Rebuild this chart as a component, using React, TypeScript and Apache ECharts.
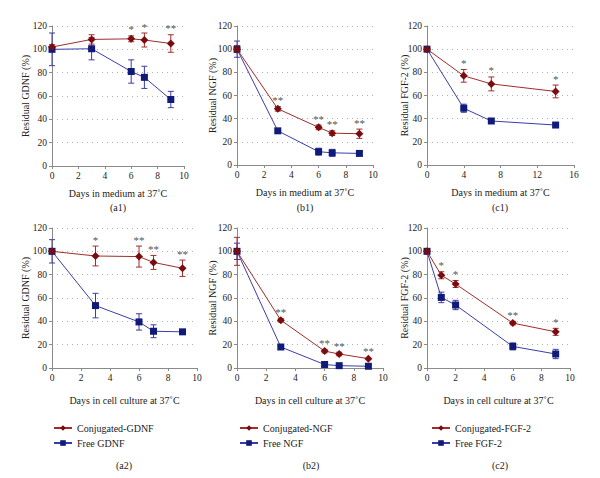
import React, { useEffect, useRef } from "react";
import * as echarts from "echarts";

// ---- Data ----
const daysA1 = [0, 3, 6, 7, 9];
const conjA1 = [102, 108.5, 109, 108, 105];
const conjErrA1 = [2, 4, 2.5, 6, 7.5];
const freeA1 = [100, 100.5, 81, 76, 57];
const freeErrA1 = [14, 9.5, 10, 9.5, 7];
const starsA1 = ["", "", "*", "*", "**"];

const daysB1 = [0, 3, 6, 7, 9];
const conjB1 = [100, 48.5, 32.5, 27.5, 27];
const conjErrB1 = [3, 2, 2, 2, 4];
const freeB1 = [100, 29.5, 11.5, 10.5, 10];
const freeErrB1 = [7, 1.5, 3, 3, 1.5];
const starsB1 = ["", "**", "**", "**", "**"];

const daysC1 = [0, 4, 7, 14];
const conjC1 = [100, 77, 70, 63.5];
const conjErrC1 = [1, 5.5, 6, 5.5];
const freeC1 = [100, 49, 38, 34.5];
const freeErrC1 = [1, 3.5, 1, 1];
const starsC1 = ["", "*", "*", "*"];

const daysA2 = [0, 3, 6, 7, 9];
const conjA2 = [100, 96, 95.5, 90.5, 85.5];
const conjErrA2 = [2, 8.5, 9, 6, 7];
const freeA2 = [100, 53.5, 39.5, 31.5, 31];
const freeErrA2 = [10, 10.5, 7, 5.5, 1];
const starsA2 = ["", "*", "**", "**", "**"];

const daysB2 = [0, 3, 6, 7, 9];
const conjB2 = [100, 41, 14.5, 12, 8];
const conjErrB2 = [12, 1.5, 1.5, 1.5, 1];
const freeB2 = [100, 18, 3, 2, 1.5];
const freeErrB2 = [7, 1, 1, 1, 1];
const starsB2 = ["", "**", "**", "**", "**"];

const daysC2 = [0, 1, 2, 6, 9];
const conjC2 = [100, 79.5, 72, 38.5, 31];
const conjErrC2 = [1, 3, 3, 1.5, 3];
const freeC2 = [100, 60.5, 54, 18.5, 12];
const freeErrC2 = [1, 4.5, 4, 3, 4];
const starsC2 = ["", "*", "*", "**", "*"];

const yTicks = [0, 20, 40, 60, 80, 100, 120];
const xMaxes = [10, 10, 16, 10, 10, 10];
const xIntervals = [2, 2, 4, 2, 2, 2];

const conjNames = ["Conjugated-GDNF", "Conjugated-NGF", "Conjugated-FGF-2"];
const freeNames = ["Free GDNF", "Free NGF", "Free FGF-2"];
const yNames = ["Residual GDNF (%)", "Residual NGF (%)", "Residual FGF-2 (%)"];
const xNameTop = "Days in medium at 37˚C";
const xNameBottom = "Days in cell culture at 37˚C";
const captions = ["(a1)", "(b1)", "(c1)", "(a2)", "(b2)", "(c2)"];

const FONT = "Liberation Serif";
const RED_LINE = "#a02c2c";
const RED_MARK = "#7a0c10";
const BLUE_LINE = "#3c3ca8";
const BLUE_MARK = "#101a78";

const panels = [
  { days: daysA1, conj: conjA1, conjErr: conjErrA1, free: freeA1, freeErr: freeErrA1, stars: starsA1 },
  { days: daysB1, conj: conjB1, conjErr: conjErrB1, free: freeB1, freeErr: freeErrB1, stars: starsB1 },
  { days: daysC1, conj: conjC1, conjErr: conjErrC1, free: freeC1, freeErr: freeErrC1, stars: starsC1 },
  { days: daysA2, conj: conjA2, conjErr: conjErrA2, free: freeA2, freeErr: freeErrA2, stars: starsA2 },
  { days: daysB2, conj: conjB2, conjErr: conjErrB2, free: freeB2, freeErr: freeErrB2, stars: starsB2 },
  { days: daysC2, conj: conjC2, conjErr: conjErrC2, free: freeC2, freeErr: freeErrC2, stars: starsC2 },
];

const grids = [
  { left: 52, top: 26, width: 132, height: 140 },
  { left: 237, top: 26, width: 136, height: 139 },
  { left: 427, top: 26, width: 147, height: 139 },
  { left: 52, top: 228, width: 145, height: 140 },
  { left: 237, top: 228, width: 146, height: 140 },
  { left: 427, top: 228, width: 143, height: 140 },
];
const yNameGaps = [22, 20, 18, 22, 20, 18];
const xNameGaps = [22, 22, 22, 27, 27, 27];
const captionPos = [
  [118, 207], [305, 207], [500, 207],
  [124, 465], [311, 465], [500, 465],
];
const legendPos = [[48, 418], [234, 418], [426, 418]];

function errorSeries(idx: number, days: number[], vals: number[], errs: number[], color: string, stars: string[] | null) {
  const data = days.map((d, i) => [d, vals[i] - errs[i], vals[i] + errs[i]]);
  return {
    type: "custom",
    xAxisIndex: idx,
    yAxisIndex: idx,
    silent: true,
    z: 3,
    encode: { x: 0, y: [1, 2] },
    data,
    renderItem: (params: any, api: any) => {
      const x = api.value(0);
      const lo = api.value(1);
      const hi = api.value(2);
      const pLo = api.coord([x, lo]);
      const pHi = api.coord([x, hi]);
      const w = 3;
      const style = { stroke: color, lineWidth: 1 };
      const children: any[] = [];
      if (pLo[1] - pHi[1] > 3) {
        children.push(
          { type: "line", shape: { x1: pLo[0], y1: pLo[1], x2: pHi[0], y2: pHi[1] }, style },
          { type: "line", shape: { x1: pLo[0] - w, y1: pLo[1], x2: pLo[0] + w, y2: pLo[1] }, style },
          { type: "line", shape: { x1: pHi[0] - w, y1: pHi[1], x2: pHi[0] + w, y2: pHi[1] }, style }
        );
      }
      const s = stars ? stars[params.dataIndex] : "";
      if (s) {
        children.push({
          type: "text",
          x: pHi[0],
          y: pHi[1] - 1,
          style: {
            text: s,
            fill: "#555",
            font: `11px "${FONT}"`,
            align: "center",
            verticalAlign: "bottom",
          },
        });
      }
      return { type: "group", children };
    },
  };
}

export default function App() {
  const ref = useRef<HTMLDivElement>(null);
  useEffect(() => {
    if (!ref.current) return;
    const chart = echarts.init(ref.current, null, { renderer: "svg" });
    const textStyle = { fontFamily: FONT, color: "#222" };

    const xAxis = grids.map((_, i) => ({
      type: "value",
      gridIndex: i,
      min: 0,
      max: xMaxes[i],
      interval: xIntervals[i],
      name: i < 3 ? xNameTop : xNameBottom,
      nameLocation: "middle",
      nameGap: xNameGaps[i],
      nameMoveOverlap: false,
      nameTextStyle: { fontFamily: FONT, fontSize: 10, color: "#222" },
      axisLine: { show: true, lineStyle: { color: "#8a8a8a", width: 1 } },
      axisTick: { show: true, length: 3, lineStyle: { color: "#8a8a8a" } },
      axisLabel: { fontFamily: FONT, fontSize: 9.5, color: "#222", margin: 5 },
      splitLine: { show: false },
    }));
    const yAxis = grids.map((_, i) => ({
      type: "value",
      gridIndex: i,
      min: yTicks[0],
      max: yTicks[yTicks.length - 1],
      interval: yTicks[1] - yTicks[0],
      name: yNames[i % 3],
      nameLocation: "middle",
      nameRotate: 90,
      nameGap: yNameGaps[i],
      nameMoveOverlap: false,
      nameTextStyle: { fontFamily: FONT, fontSize: 10, color: "#222" },
      axisLine: { show: true, lineStyle: { color: "#8a8a8a", width: 1 } },
      axisTick: { show: true, length: 3, lineStyle: { color: "#8a8a8a" } },
      axisLabel: { fontFamily: FONT, fontSize: 9.5, color: "#222", margin: 5 },
      splitLine: { show: true, lineStyle: { color: "#b0b0b0", type: [1, 4], width: 1 } },
    }));

    const series: any[] = [];
    panels.forEach((p, i) => {
      const col = i % 3;
      series.push(errorSeries(i, p.days, p.free, p.freeErr, BLUE_LINE, null));
      series.push(errorSeries(i, p.days, p.conj, p.conjErr, RED_LINE, p.stars));
      series.push({
        type: "line",
        name: freeNames[col],
        xAxisIndex: i,
        yAxisIndex: i,
        data: p.days.map((d, k) => [d, p.free[k]]),
        symbol: "rect",
        symbolSize: 7,
        z: 4,
        lineStyle: { color: BLUE_LINE, width: 1 },
        itemStyle: { color: BLUE_MARK },
      });
      series.push({
        type: "line",
        name: conjNames[col],
        xAxisIndex: i,
        yAxisIndex: i,
        data: p.days.map((d, k) => [d, p.conj[k]]),
        symbol: "diamond",
        symbolSize: 8,
        z: 5,
        lineStyle: { color: RED_LINE, width: 1 },
        itemStyle: { color: RED_MARK },
      });
    });

    const legend = legendPos.map((pos, c) => ({
      data: [conjNames[c], freeNames[c]],
      left: pos[0],
      top: pos[1],
      orient: "vertical",
      itemWidth: 18,
      itemHeight: 7,
      itemGap: 5,
      textStyle: { fontFamily: FONT, fontSize: 10, color: "#222" },
      selectedMode: false,
    }));

    const graphic = captions.map((t, i) => ({
      type: "text",
      x: captionPos[i][0],
      y: captionPos[i][1],
      style: {
        text: t,
        fill: "#222",
        font: `10px "${FONT}"`,
        align: "center",
        verticalAlign: "middle",
      },
    }));

    chart.setOption({
      animation: false,
      backgroundColor: "#ffffff",
      textStyle,
      grid: grids.map((g) => ({ ...g })),
      xAxis,
      yAxis,
      series,
      legend,
      graphic,
    });
    return () => chart.dispose();
  }, []);
  return (
    <div
      ref={ref}
      style={{ position: "fixed", left: 0, top: 0, width: 600, height: 478 }}
    />
  );
}
